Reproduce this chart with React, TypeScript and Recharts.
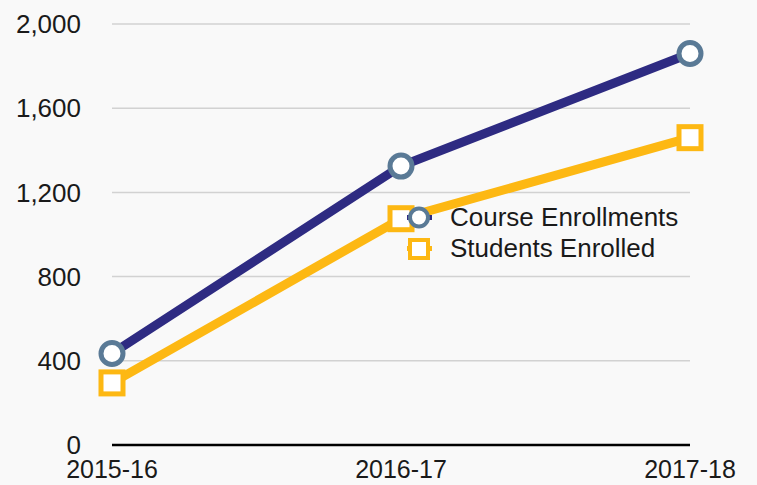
import { CartesianGrid, Legend, Line, LineChart, XAxis, YAxis } from "recharts";

const years = ["2015-16", "2016-17", "2017-18"];
const courseEnrollments = [435, 1325, 1860];
const studentsEnrolled = [295, 1075, 1460];
const yTicks = [0, 400, 800, 1200, 1600, 2000];

const NAVY = "#2e2b82";
const STEEL = "#5a7a96";
const GOLD = "#fdb813";
const FONT = "'Liberation Sans', Arial, Helvetica, sans-serif";

const data = years.map((year, i) => ({
  year,
  course: courseEnrollments[i],
  students: studentsEnrolled[i],
}));

function CircleDot(props: any) {
  const { cx, cy, index } = props;
  return <circle key={`c-${index}`} cx={cx} cy={cy} r={11} fill="#fff" stroke={STEEL} strokeWidth={5} />;
}

function SquareDot(props: any) {
  const { cx, cy, index } = props;
  return (
    <rect key={`s-${index}`} x={cx - 11} y={cy - 11} width={22} height={22} fill="#fff" stroke={GOLD} strokeWidth={5} />
  );
}

function renderLegend() {
  const items = [
    { label: "Course Enrollments", color: NAVY, kind: "circle" },
    { label: "Students Enrolled", color: GOLD, kind: "square" },
  ];
  return (
    <div style={{ fontFamily: FONT, fontSize: 26, color: "#1a1a1a" }}>
      {items.map((item) => (
        <div key={item.label} style={{ display: "flex", alignItems: "center", height: 31 }}>
          <svg width={45} height={31} style={{ display: "block" }}>
            <line x1={2} y1={15.5} x2={27} y2={15.5} stroke={item.color} strokeWidth={5} />
            {item.kind === "circle" ? (
              <circle cx={14} cy={15.5} r={9} fill="#fff" stroke={STEEL} strokeWidth={4} />
            ) : (
              <rect x={5} y={7} width={18} height={18} fill="#fff" stroke={GOLD} strokeWidth={4} />
            )}
          </svg>
          <span style={{ lineHeight: "31px" }}>{item.label}</span>
        </div>
      ))}
    </div>
  );
}

export default function App() {
  return (
    <div style={{ position: "absolute", left: 0, top: 0, width: 757, height: 485, background: "#f9f9f9" }}>
      <LineChart width={757} height={485} data={data} margin={{ top: 24, right: 67, left: 0, bottom: 0 }}>
        <CartesianGrid vertical={false} stroke="#d2d2d2" strokeWidth={1.5} />
        <XAxis
          dataKey="year"
          axisLine={{ stroke: "#000", strokeWidth: 2.5 }}
          tickLine={false}
          tickSize={0}
          tickMargin={15}
          height={40}
          interval={0}
          tick={{ fill: "#1a1a1a", fontSize: 25, fontFamily: FONT }}
        />
        <YAxis
          domain={[0, 2000]}
          ticks={yTicks}
          axisLine={false}
          tickLine={false}
          tickSize={0}
          tickMargin={31}
          width={112}
          tickFormatter={(v: number) => v.toLocaleString("en-US")}
          tick={{ fill: "#1a1a1a", fontSize: 26, fontFamily: FONT }}
        />
        <Legend
          layout="vertical"
          align="center"
          verticalAlign="middle"
          content={renderLegend}
          wrapperStyle={{ left: 405, top: 202, width: 320 }}
        />
        <Line
          dataKey="course"
          name="Course Enrollments"
          stroke={NAVY}
          strokeWidth={9}
          dot={CircleDot}
          activeDot={false}
          isAnimationActive={false}
        />
        <Line
          dataKey="students"
          name="Students Enrolled"
          stroke={GOLD}
          strokeWidth={9}
          dot={SquareDot}
          activeDot={false}
          isAnimationActive={false}
        />
      </LineChart>
    </div>
  );
}
